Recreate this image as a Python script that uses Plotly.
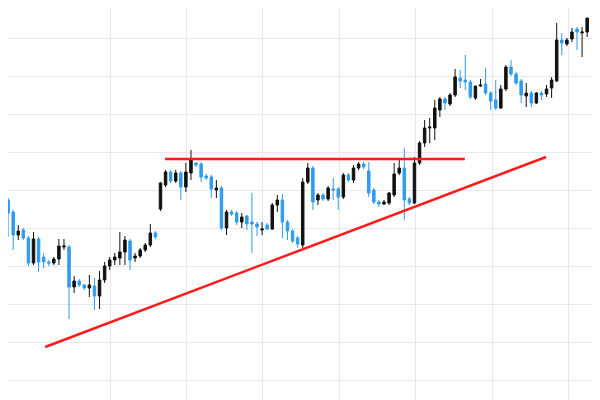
import plotly.graph_objects as go

opens  = [215,200,188,165,170,162,137,161,143,138,137,141,153,153,113,119,115,112,114,104,120,134,140,142,148,159,142,144,150,155,167,
          191,215,228,219,227,213,227,237,236,224,223,210,212,172,188,187,178,184,178,176,170,175,171,195,200,178,169,162,
          155,218,232,200,205,201,211,211,203,225,220,232,236,229,210,198,196,197,205,227,232,201,197,237,257,272,272,290,301,296,
          305,322,320,318,302,314,316,307,300,292,311,333,326,319,304,307,297,307,306,312,319,360,356,361,371,367,368]
highs  = [237,202,190,175,172,164,168,163,147,140,143,161,161,155,124,121,116,125,122,129,138,143,147,168,164,161,147,152,157,176,169,
          218,230,230,230,229,237,250,238,238,226,225,220,214,190,190,189,187,185,207,178,178,177,197,205,206,180,171,164,
          222,237,234,207,207,214,222,213,227,227,235,238,238,238,212,200,200,208,237,240,252,203,243,259,280,282,300,303,303,307,
          331,330,345,320,314,321,332,309,320,315,335,340,328,321,317,309,308,309,315,323,377,367,362,372,373,373,382]
lows   = [197,163,150,160,160,134,135,128,132,134,135,135,150,81,107,113,110,103,90,91,117,130,135,135,135,130,138,142,148,153,161,
          189,213,217,217,200,208,220,233,218,220,202,202,170,165,184,175,172,170,147,164,165,170,170,188,162,160,157,152,
          152,216,190,195,199,199,200,190,201,218,217,230,231,203,196,193,195,195,203,225,180,195,196,235,253,257,260,283,290,294,
          303,312,310,301,300,313,305,290,290,291,309,324,315,297,293,293,296,300,303,302,318,345,354,358,350,343,363]
closes = [205,187,165,169,162,137,161,138,138,137,141,154,154,113,119,115,112,115,104,120,134,140,143,148,160,140,144,150,155,167,163,
          217,228,219,227,213,228,240,235,223,222,211,212,172,188,186,178,183,176,176,173,171,171,195,200,178,169,159,156,
          218,232,198,205,201,212,210,203,225,220,232,236,233,207,198,196,198,207,226,232,200,197,237,257,272,273,292,301,297,305,
          323,319,318,303,314,315,307,299,292,311,333,326,317,305,307,297,307,305,311,320,360,357,360,368,368,368,382]
idx = list(range(len(opens)))

resist_x = [31.9, 90.9]
resist_y = [241, 241]
support_x = [8.3, 106.9]
support_y = [53, 243]

grid_x = [21.06, 36.12, 51.18, 66.24, 81.3, 96.36, 111.42]
grid_y = [20, 58, 96, 134, 172, 210, 248, 286, 324, 362]

fig = go.Figure(go.Candlestick(
    x=idx, open=opens, high=highs, low=lows, close=closes,
    increasing=dict(line=dict(color="#111111", width=1), fillcolor="#111111"),
    decreasing=dict(line=dict(color="#2f9bf0", width=1), fillcolor="#2f9bf0"),
    whiskerwidth=0, showlegend=False, hoverinfo="skip"))
fig.add_trace(go.Scatter(x=resist_x, y=resist_y, mode="lines",
                         line=dict(color="#ff1a1a", width=2.5), showlegend=False))
fig.add_trace(go.Scatter(x=support_x, y=support_y, mode="lines",
                         line=dict(color="#ff1a1a", width=2.5), showlegend=False))

fig.update_layout(
    width=600, height=400, margin=dict(l=0, r=0, t=0, b=0),
    paper_bgcolor="white", plot_bgcolor="white",
    xaxis=dict(range=[0.98, 119.1], rangeslider=dict(visible=False),
               showticklabels=False, showgrid=True, gridcolor="#e6e8ef", gridwidth=1,
               tickmode="array", tickvals=grid_x, zeroline=False, ticks=""),
    yaxis=dict(range=[-8, 392], showticklabels=False, showgrid=True, gridcolor="#e6e8ef",
               gridwidth=1, tickmode="array", tickvals=grid_y, zeroline=False, ticks=""),
)
fig.write_html("out.html")
